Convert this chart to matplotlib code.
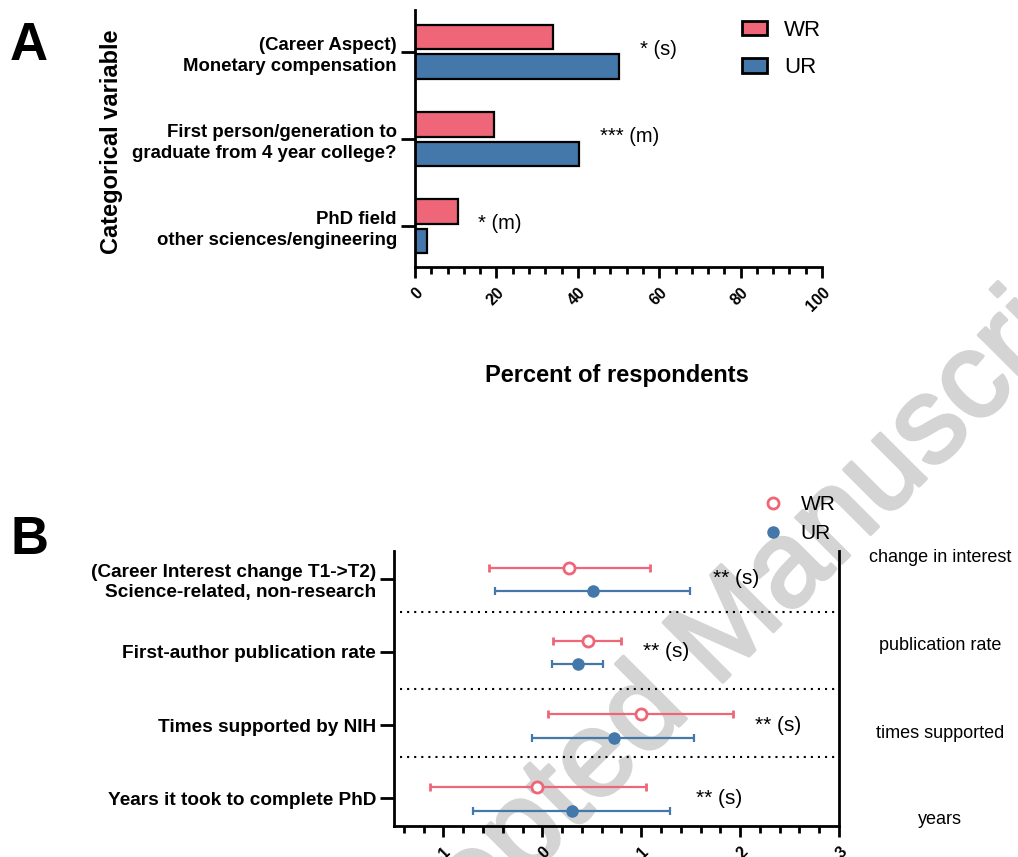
import numpy as np
import matplotlib
matplotlib.use('Agg')
import matplotlib.pyplot as plt
import matplotlib.patheffects as pe
from matplotlib.patches import Patch
from matplotlib.lines import Line2D

plt.rcParams['font.family'] = ['Liberation Sans', 'DejaVu Sans']

# ---- data, panel A (percent of respondents)
cats_a = ['(Career Aspect)\nMonetary compensation',
          'First person/generation to\ngraduate from 4 year college?',
          'PhD field\nother sciences/engineering']
wr_pct = [33.9, 19.3, 10.6]
ur_pct = [50.1, 40.3, 3.0]
sig_a = ['* (s)', '*** (m)', '* (m)']
sig_a_x = [55.3, 45.5, 15.5]

# ---- data, panel B (estimate and interval)
cats_b = ['(Career Interest change T1->T2)\nScience-related, non-research',
          'First-author publication rate',
          'Times supported by NIH',
          'Years it took to complete PhD']
right_b = ['change in interest', 'publication rate', 'times supported', 'years']
wr_est = [0.27, 0.46, 1.00, -0.05]
wr_lo = [-0.54, 0.11, 0.06, -1.14]
wr_hi = [1.09, 0.80, 1.93, 1.05]
ur_est = [0.51, 0.36, 0.72, 0.30]
ur_lo = [-0.48, 0.10, -0.10, -0.70]
ur_hi = [1.49, 0.61, 1.53, 1.29]
sig_b = ['** (s)', '** (s)', '** (s)', '** (s)']
sig_b_x = [1.73, 1.02, 2.15, 1.55]

WR_C = '#EE6677'
UR_C = '#4477AA'

fig = plt.figure(figsize=(10.18, 8.57), dpi=100)

# watermark, behind everything
wm_col = '#d4d4d4'
fig.text(0.70, 0.245, 'Accepted Manuscript', fontsize=88, color=wm_col,
         rotation=45, ha='center', va='center', rotation_mode='anchor', zorder=-5,
         path_effects=[pe.withStroke(linewidth=2.5, foreground=wm_col)])

# ================= Panel A
ax = fig.add_axes([0.4077, 0.6884, 0.3998, 0.2999])
ax.patch.set_alpha(0)
ya = np.arange(len(cats_a))
ax.barh(ya - 0.167, wr_pct, height=0.28, color=WR_C, edgecolor='black', linewidth=1.6, label='WR')
ax.barh(ya + 0.170, ur_pct, height=0.28, color=UR_C, edgecolor='black', linewidth=1.6, label='UR')
ax.set_xlim(0, 100)
ax.set_ylim(2.47, -0.48)
ax.set_yticks(ya)
ax.set_yticklabels(cats_a, fontsize=13.4, fontweight='bold', multialignment='right', linespacing=1.3)
ax.set_xticks(np.arange(0, 101, 20))
ax.set_xticks(np.arange(0, 101, 4), minor=True)
ax.set_xticklabels([str(v) for v in range(0, 101, 20)], rotation=45, ha='right',
                   rotation_mode='anchor', fontsize=11.5, fontweight='bold')
for s in ['top', 'right']:
    ax.spines[s].set_visible(False)
for s in ['left', 'bottom']:
    ax.spines[s].set_linewidth(2)
ax.tick_params(axis='both', which='major', width=2, length=8, pad=5)
ax.tick_params(axis='x', which='minor', width=2, length=5)
ax.tick_params(axis='y', length=10, pad=3)
for i, t in enumerate(sig_a):
    ax.text(sig_a_x[i], i - 0.03, t, fontsize=14.5, ha='left', va='center')
ax.legend(handles=[Patch(facecolor=WR_C, edgecolor='black', linewidth=2, label='WR'),
                   Patch(facecolor=UR_C, edgecolor='black', linewidth=2, label='UR')],
          loc='upper left', bbox_to_anchor=(0.755, 1.04), frameon=False, fontsize=16,
          handlelength=1.13, handleheight=0.64, handletextpad=0.75, labelspacing=0.75)

fig.text(0.11, 0.835, 'Categorical variable', rotation=90, ha='center', va='center',
         fontsize=17, fontweight='bold')
fig.text(0.606, 0.562, 'Percent of respondents', ha='center', va='center',
         fontsize=17, fontweight='bold')
fig.text(0.01, 0.946, 'A', fontsize=38, fontweight='bold', ha='left', va='center')
fig.text(0.01, 0.37, 'B', fontsize=38, fontweight='bold', ha='left', va='center')

# ================= Panel B
bx = fig.add_axes([0.387, 0.0362, 0.4372, 0.3208])
bx.patch.set_alpha(0)
yb = np.arange(len(cats_b))
wr_est = np.array(wr_est); ur_est = np.array(ur_est)
wr_err = [wr_est - np.array(wr_lo), np.array(wr_hi) - wr_est]
ur_err = [ur_est - np.array(ur_lo), np.array(ur_hi) - ur_est]
bx.errorbar(wr_est, yb - 0.155, xerr=wr_err, fmt='o', color=WR_C, mfc='white', mec=WR_C,
            mew=2, ms=8, elinewidth=1.6, capsize=3, capthick=1.6)
bx.errorbar(ur_est, yb + 0.17, xerr=ur_err, fmt='o', color=UR_C, mfc=UR_C, mec=UR_C,
            ms=8, elinewidth=1.6, capsize=3, capthick=1.6)
for yy in [0.45, 1.5, 2.44]:
    bx.axhline(yy, xmin=0.013, xmax=1, color='black', linewidth=1.5, linestyle=(0, (1, 2.4)))
bx.set_xlim(-1.5, 3)
bx.set_ylim(3.38, -0.38)
bx.set_yticks(yb)
bx.set_yticklabels(cats_b, fontsize=13.7, fontweight='bold', multialignment='right', linespacing=1.25)
bx.set_xticks(np.arange(-1, 3.01, 1))
bx.set_xticks(np.arange(-1.4, 3.01, 0.2), minor=True)
bx.set_xticklabels([str(v) for v in range(-1, 4)], rotation=45, ha='right',
                   rotation_mode='anchor', fontsize=11.5, fontweight='bold')
bx.spines['top'].set_visible(False)
for s in ['left', 'bottom', 'right']:
    bx.spines[s].set_linewidth(2)
bx.tick_params(axis='both', which='major', width=2, length=8, pad=5)
bx.tick_params(axis='x', which='minor', width=2, length=5)
bx.tick_params(axis='y', length=10, pad=3)
for i, t in enumerate(sig_b):
    bx.text(sig_b_x[i], i, t, fontsize=15, ha='left', va='center')
bx.legend(handles=[Line2D([], [], marker='o', ls='', mfc='white', mec=WR_C, mew=2, ms=8, label='WR'),
                   Line2D([], [], marker='o', ls='', mfc=UR_C, mec=UR_C, ms=8, label='UR')],
          loc='lower left', bbox_to_anchor=(0.787, 0.96), frameon=False, fontsize=15,
          handletextpad=0.8, labelspacing=0.5, handlelength=1.0)

right_y = [558, 646, 733, 820]
for lab, py in zip(right_b, right_y):
    fig.text(940 / 1018, 1 - py / 857, lab, fontsize=13, ha='center', va='center')

fig.savefig('out.png', dpi=100)
